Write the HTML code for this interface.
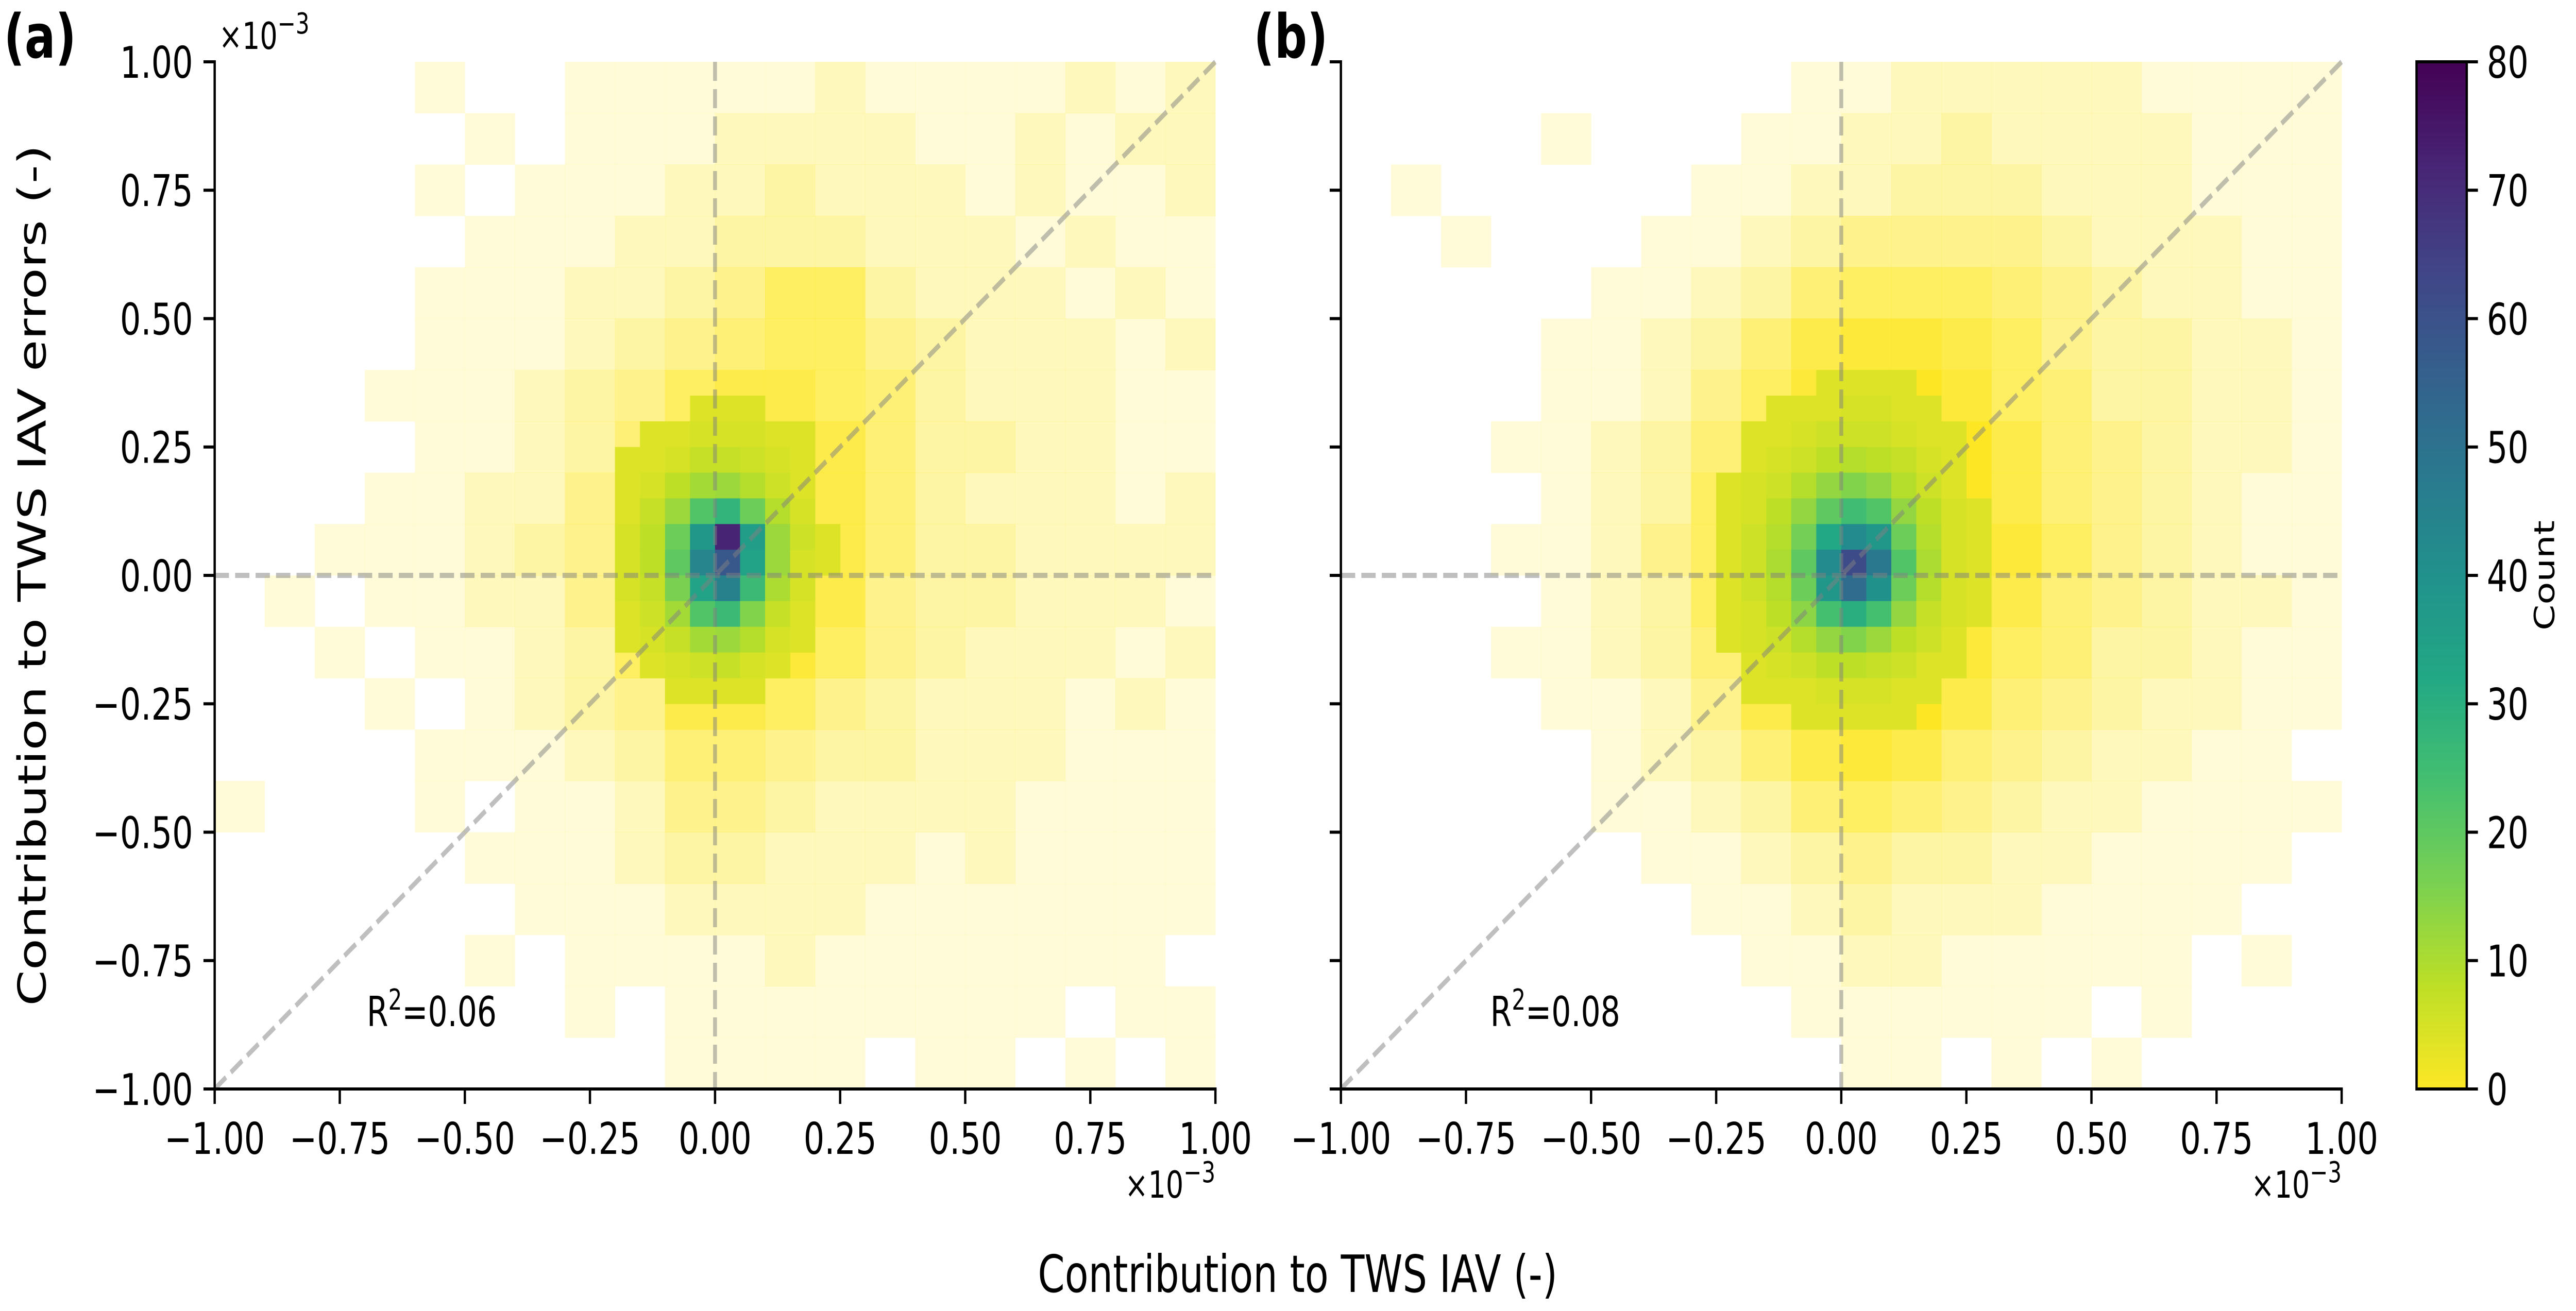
<!DOCTYPE html>
<html><head><meta charset="utf-8"><style>
html,body{margin:0;padding:0;background:#fff;overflow:hidden;width:100%;height:100%;}
#fig{position:fixed;left:0;top:0;width:100vw;height:100vh;display:block;}
svg text{font-family:"DejaVu Sans","Liberation Sans",sans-serif;}
</style></head><body>
<svg id="fig" xmlns="http://www.w3.org/2000/svg" viewBox="0 0 6672 2545" preserveAspectRatio="none">
<defs>
<linearGradient id="vir" x1="0" y1="1" x2="0" y2="0">
<stop offset="0" stop-color="#fde725"/><stop offset="0.1" stop-color="#bddf26"/><stop offset="0.2" stop-color="#7ad151"/><stop offset="0.3" stop-color="#44bf70"/><stop offset="0.4" stop-color="#22a884"/><stop offset="0.5" stop-color="#21918c"/><stop offset="0.6" stop-color="#2a788e"/><stop offset="0.7" stop-color="#355f8d"/><stop offset="0.8" stop-color="#414487"/><stop offset="0.9" stop-color="#482475"/><stop offset="1" stop-color="#440154"/>
</linearGradient>
</defs>
<g id="root"></g>
</svg>
<script>
// ---- data ----
const tickValues = [-1, -0.75, -0.5, -0.25, 0, 0.25, 0.5, 0.75, 1];
const tickLabels = ["\u22121.00","\u22120.75","\u22120.50","\u22120.25","0.00","0.25","0.50","0.75","1.00"];
const cbarTicks = [0,10,20,30,40,50,60,70,80];
const r2Labels = ["0.06","0.08"];
// occupancy (0-9) on 0.1 grid, rows from y=1.0 down to -1.0, cols x=-1..1
const occA = [
"00001001111121111212","00000101112222112122","00001011122322212112","00000111223332221211",
"00001112234663222121","00001112345664322212","00011123467765322211","00001123589875332211",
"00011224699975322212","00111234799975332222","01011224799974332221","00101123699864322212",
"00010123477643222121","00001112355433222111","10001011244322221111","00000111233222121111",
"00000011122221111111","00000101111211111110","00000001011111111011","00000000011110110101"];
const occB = [
"00000000011222221111","00001000112232222111","01000001122333222111","00100011234444322211",
"00000112356665432211","00001123578876433221","00001124689986533221","00011235899997543221",
"00001236999997543211","00011246999998643211","00001236999997543221","00011235899986533211",
"00001124799975432211","00000123578754322110","00000112356543221111","00000011234332211110",
"00000001123222111100","00000000112211111010","00000000011111101000","00000000001101010000"];
// core counts on 0.05 grid, x from -0.3 to 0.35 (13 cols), rows y from 0.4 down to -0.3 (14 rows)
const coreA = [
[2,2,3,3,3,3,3,3,3,3,2,2,2],[2,2,3,3,3,4,4,4,3,3,3,2,2],[2,3,3,4,4,5,5,5,4,4,3,2,2],
[2,3,4,4,5,7,7,6,5,4,3,2,2],[2,3,4,5,8,11,12,9,6,4,3,2,2],[3,3,4,7,12,22,28,18,9,5,3,3,2],
[3,3,5,8,18,38,72,36,12,6,4,3,2],[3,3,5,8,20,44,58,34,12,5,4,3,2],[3,3,5,7,16,34,45,26,10,5,3,3,2],
[2,3,4,6,11,22,26,15,7,4,3,2,2],[2,3,4,5,7,11,12,9,5,4,3,2,2],[2,2,3,4,5,6,7,5,4,3,2,2,2],
[2,2,3,3,4,4,4,4,3,3,2,2,2],[2,2,2,3,3,3,3,3,3,2,2,2,1]];
const coreB = [
[3,3,3,3,3,4,4,4,4,3,3,3,3],[3,3,3,4,4,4,5,5,4,4,3,3,3],[3,3,4,4,5,6,6,6,5,4,4,3,3],
[3,3,4,5,6,8,9,8,7,5,4,3,3],[3,4,5,6,9,13,15,13,9,6,4,3,3],[3,4,5,8,13,20,25,22,13,8,5,4,3],
[3,4,6,9,17,32,42,38,18,9,5,4,3],[3,4,6,10,20,42,62,48,22,10,5,4,3],[3,4,6,9,18,38,52,40,18,9,5,4,3],
[3,4,5,8,14,24,30,24,13,7,5,4,3],[3,4,5,6,9,13,15,12,8,6,4,3,3],[3,3,4,5,6,8,8,7,6,4,4,3,3],
[3,3,4,4,4,5,5,5,4,4,3,3,3],[3,3,3,3,4,4,4,4,4,3,3,3,2]];

// ---- layout ----
const NS="http://www.w3.org/2000/svg";
const root=document.getElementById('root');
const Y0=120, Y1=2114;
const panels=[{x0:556,x1:3148,occ:occA,core:coreA,label:"(a)",lx:10,r2x:950,ylabels:true,topOffset:true},
              {x0:3473,x1:6065,occ:occB,core:coreB,label:"(b)",lx:3247,r2x:3860,ylabels:false,topOffset:false}];
const vir=["#440154","#482475","#414487","#355f8d","#2a788e","#21918c","#22a884","#44bf70","#7ad151","#bddf26","#fde725"];
function hex(h){return [parseInt(h.substr(1,2),16),parseInt(h.substr(3,2),16),parseInt(h.substr(5,2),16)];}
function cmap(c){let t=1-Math.min(c,80)/80;let f=t*10,i=Math.min(9,Math.floor(f)),r=f-i;
 const a=hex(vir[i]),b=hex(vir[i+1]);return "rgb("+a.map((v,k)=>Math.round(v+(b[k]-v)*r)).join(",")+")";}
function mk(tag,attrs,parent){const e=document.createElementNS(NS,tag);for(const k in attrs)e.setAttribute(k,attrs[k]);(parent||root).appendChild(e);return e;}
function txt(s,attrs,parent){const e=mk('text',attrs,parent);e.textContent=s;return e;}

panels.forEach((p,pi)=>{
 const sx=v=>p.x0+(v+1)/2*(p.x1-p.x0);
 const sy=v=>Y0+(1-v)/2*(Y1-Y0);
 const g=mk('g',{});
 
 
 const hm=mk('g',{},g);
 
 
 p.occ.forEach((row,ri)=>{for(let ci=0;ci<20;ci++){const o=+row[ci];if(!o)continue;
  const xa=-1+ci*0.1, ya=1-ri*0.1;
  const r=mk('rect',{x:sx(xa),y:sy(ya),width:sx(xa+0.1)-sx(xa)+0.5,height:sy(ya-0.1)-sy(ya)+0.5,fill:"#fde725","fill-opacity":Math.pow(o/9,0.8).toFixed(3)},hm);
  
  
 }});
 p.core.forEach((row,ri)=>row.forEach((c,ci)=>{if(c<4)return;
  const xa=-0.3+ci*0.05, ya=0.4-ri*0.05;
  const r=mk('rect',{x:sx(xa),y:sy(ya),width:sx(xa+0.05)-sx(xa)+0.5,height:sy(ya-0.05)-sy(ya)+0.5,fill:cmap(c)},hm);
  
  
 }));
 const ls={stroke:"rgba(128,128,128,0.5)","stroke-width":10,"stroke-dasharray":"37 16",fill:"none"};
 const l1=mk('line',Object.assign({x1:sx(0),y1:sy(1),x2:sx(0),y2:sy(-1)},ls),g);
 
 
 const l2=mk('line',Object.assign({x1:sx(-1),y1:sy(0),x2:sx(1),y2:sy(0)},ls),g);
 
 
 const l3=mk('line',Object.assign({x1:sx(-1),y1:sy(-1),x2:sx(1),y2:sy(1)},ls),g);
 
 
 const sp=mk('path',{d:`M${p.x0},${Y0} V${Y1} H${p.x1}`,stroke:"#000","stroke-width":6,fill:"none","stroke-linecap":"square"},g);
 
 
 tickValues.forEach((v,i)=>{
  const t=mk('line',{x1:sx(v),y1:Y1,x2:sx(v),y2:Y1+29,stroke:"#000","stroke-width":6},g);
  
  
  const tl=txt(tickLabels[i],{x:sx(v),y:2240,"font-size":85,"text-anchor":"middle"},g);
  
  
  const u=mk('line',{x1:p.x0-29,y1:sy(v),x2:p.x0,y2:sy(v),stroke:"#000","stroke-width":6},g);
  
  
  if(p.ylabels){const yl=txt(tickLabels[i],{x:500,y:sy(v)+31,"font-size":85,"text-anchor":"end"},g);
   
   }
 });
 const xo=txt("",{x:p.x1,y:2325,"font-size":72,"text-anchor":"end"},g);
 xo.innerHTML='\u00d710<tspan dy="-30" font-size="56">\u22123</tspan>';
 
 
 if(p.topOffset){const yo=txt("",{x:567,y:95,"font-size":72},g);
  yo.innerHTML='\u00d710<tspan dy="-30" font-size="56">\u22123</tspan>';
  
  }
 const pl=txt(p.label,{x:p.lx,y:112,"font-size":118,"font-weight":"bold"},g);
 
 
 const r2=txt("",{x:p.r2x,y:1992,"font-size":80},g);
 r2.innerHTML='R<tspan dy="-32" font-size="56">2</tspan><tspan dy="32">='+r2Labels[pi]+'</tspan>';
 
 
});

const CX0=6259, CX1=6389;
const cb=mk('g',{});


mk('rect',{x:CX0,y:Y0,width:CX1-CX0,height:Y1-Y0,fill:"url(#vir)",stroke:"#000","stroke-width":6},cb);
const cy=v=>Y1-v/80*(Y1-Y0);
cbarTicks.forEach(v=>{
 const t=mk('line',{x1:CX1,y1:cy(v),x2:CX1+29,y2:cy(v),stroke:"#000","stroke-width":6},cb);
 
 
 const l=txt(String(v),{x:CX1+52,y:cy(v)+31,"font-size":85},cb);
 
 
});
const cl=txt("Count",{x:0,y:0,"font-size":72,"text-anchor":"middle",transform:`translate(6615,${(Y0+Y1)/2}) rotate(-90)`},cb);



const xt=txt("Contribution to TWS IAV (-)",{x:3361,y:2508,"font-size":100,"text-anchor":"middle"});


const yt=txt("Contribution to TWS IAV errors (-)",{x:0,y:0,"font-size":100,"text-anchor":"middle",transform:`translate(118,1117) rotate(-90)`});


</script>
</body></html>
